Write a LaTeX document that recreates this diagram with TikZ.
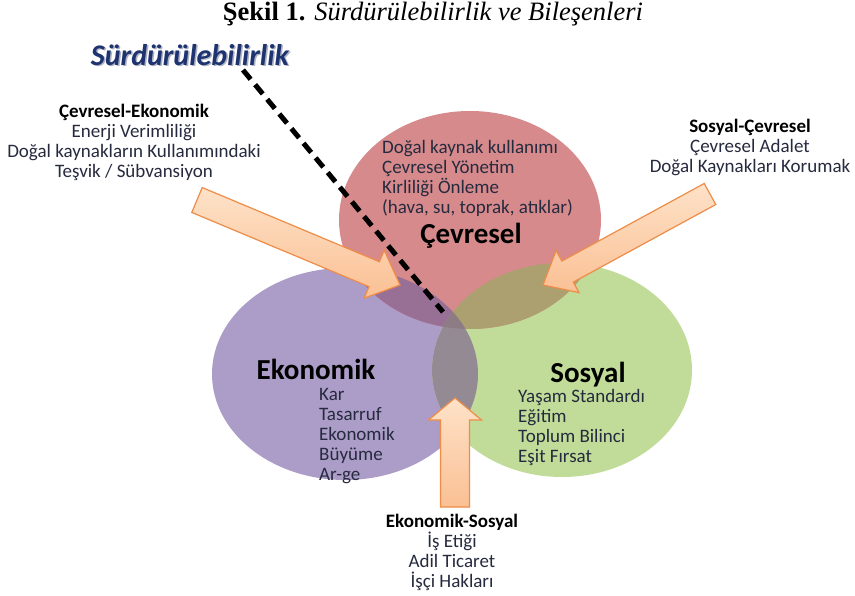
\documentclass[tikz,border=0pt]{standalone}
\usepackage{fontspec}
\setmainfont{Liberation Serif}
\newfontfamily\carl{Carlito}
\usetikzlibrary{calc}
\definecolor{cRed}{RGB}{214,138,140}
\definecolor{cPur}{RGB}{172,156,200}
\definecolor{cGrn}{RGB}{192,220,152}
\definecolor{cPR}{RGB}{152,112,150}
\definecolor{cGR}{RGB}{172,160,112}
\definecolor{cPG}{RGB}{148,138,148}
\definecolor{cC}{RGB}{142,124,132}
\definecolor{txt}{RGB}{38,42,62}
\definecolor{sblue}{RGB}{30,52,112}
\definecolor{sshadow}{RGB}{175,178,195}
\definecolor{arrDark}{RGB}{250,192,148}
\definecolor{arrLight}{RGB}{254,226,200}
\definecolor{arrLine}{RGB}{238,140,72}
\newcommand{\blkarrow}[5]{%
  \coordinate (#1-H) at ($(#2)!#5!(#1)$);
  \coordinate (#1-a) at ($(#1)!#3!90:(#2)$);
  \coordinate (#1-b) at ($(#1-H)!#3!90:(#2)$);
  \coordinate (#1-c) at ($(#1-H)!#4!90:(#2)$);
  \coordinate (#1-d) at ($(#1-H)!#4!-90:(#2)$);
  \coordinate (#1-e) at ($(#1-H)!#3!-90:(#2)$);
  \coordinate (#1-f) at ($(#1)!#3!-90:(#2)$);
  \draw[arrowbox] (#1-a) -- (#1-b) -- (#1-c) -- (#2) -- (#1-d) -- (#1-e) -- (#1-f) -- cycle;}
\begin{document}
\begin{tikzpicture}[x=1pt,y=-1pt,
  small/.style={font=\carl\fontsize{19}{20}\selectfont, inner sep=0pt, text=txt},
  big/.style={font=\carl\bfseries\fontsize{29}{29}\selectfont, inner sep=0pt, text=black, anchor=base},
  arrowbox/.style={draw=arrLine, line width=1.2pt, line join=miter, top color=arrLight, bottom color=arrDark},
  dashline/.style={line width=5pt, dash pattern=on 12pt off 7pt, black}]
\useasboundingbox (0,0) rectangle (855,596);
\fill[white] (0,0) rectangle (855,596);
\def\elR{(470,220) ellipse [x radius=131pt, y radius=109pt]}
\def\elP{(345,374) ellipse [x radius=133pt, y radius=106pt]}
\def\elG{(562,370) ellipse [x radius=130pt, y radius=107pt]}
% circles
\fill[cPur] \elP;
\fill[cGrn] \elG;
\fill[cRed] \elR;
\begin{scope}\clip \elR; \fill[cPR] \elP; \fill[cGR] \elG; \end{scope}
\begin{scope}\clip \elP; \fill[cPG] \elG; \end{scope}
\begin{scope}\clip \elR; \clip \elP; \fill[cC] \elG; \end{scope}
% title
\node[inner sep=0pt, font=\fontsize{26.5}{26.5}\selectfont] (title) at (433,14)
  {\textbf{Şekil 1.} \textit{Sürdürülebilirlik ve Bileşenleri}};
% Surdurulebilirlik label
\node[inner sep=0pt, font=\carl\bfseries\itshape\fontsize{30}{30}\selectfont, text=sshadow] (sshad) at (191.5,56.5) {Sürdürülebilirlik};
\node[inner sep=0pt, font=\carl\bfseries\itshape\fontsize{30}{30}\selectfont, text=sblue] (surd) at (190,55) {Sürdürülebilirlik};
% arrows
\coordinate (aLt) at (197,200); \coordinate (aLh) at (400,285);
\coordinate (aRt) at (710,194); \coordinate (aRh) at (543,285);
\coordinate (aBt) at (455,507); \coordinate (aBh) at (455,398);
\blkarrow{aLt}{aLh}{13.5pt}{26pt}{28pt}
\blkarrow{aRt}{aRh}{12pt}{24pt}{28pt}
\blkarrow{aBt}{aBh}{14.5pt}{26.5pt}{22pt}
% side texts
\node[small, align=center, anchor=north] (ce) at (134,102.4)
  {\rule{0pt}{15pt}\textbf{\color{black}Çevresel-Ekonomik}\\Enerji Verimliliği\\Doğal kaynakların Kullanımındaki\\Teşvik / Sübvansiyon};
\node[small, align=center, anchor=north] (sc) at (750,117.4)
  {\rule{0pt}{15pt}\textbf{\color{black}Sosyal-Çevresel}\\Çevresel Adalet\\Doğal Kaynakları Korumak};
\node[small, align=center, anchor=north] (es) at (452,512.4)
  {\rule{0pt}{15pt}\textbf{\color{black}Ekonomik-Sosyal}\\İş Etiği\\Adil Ticaret\\İşçi Hakları};
% circle contents
\node[small, align=left, anchor=north west] (cevitems) at (382,138.4)
  {\rule{0pt}{15pt}Doğal kaynak kullanımı\\Çevresel Yönetim\\Kirliliği Önleme\\(hava, su, toprak, atıklar)};
\node[big] (cev) at (471,244) {Çevresel};
\node[big] (eko) at (316,380) {Ekonomik};
\node[small, align=left, anchor=north west] (ekoitems) at (319,385)
  {\rule{0pt}{15pt}Kar\\Tasarruf\\Ekonomik\\Büyüme\\Ar-ge};
\node[big] (sos) at (588,382) {Sosyal};
\node[small, align=left, anchor=north west] (sositems) at (518,387.4)
  {\rule{0pt}{15pt}Yaşam Standardı\\Eğitim\\Toplum Bilinci\\Eşit Fırsat};
% dashed line
\coordinate (d1) at (243,70);
\coordinate (d2) at (443,312);
\draw[dashline] (d1) -- (d2);
\end{tikzpicture}
\end{document}
